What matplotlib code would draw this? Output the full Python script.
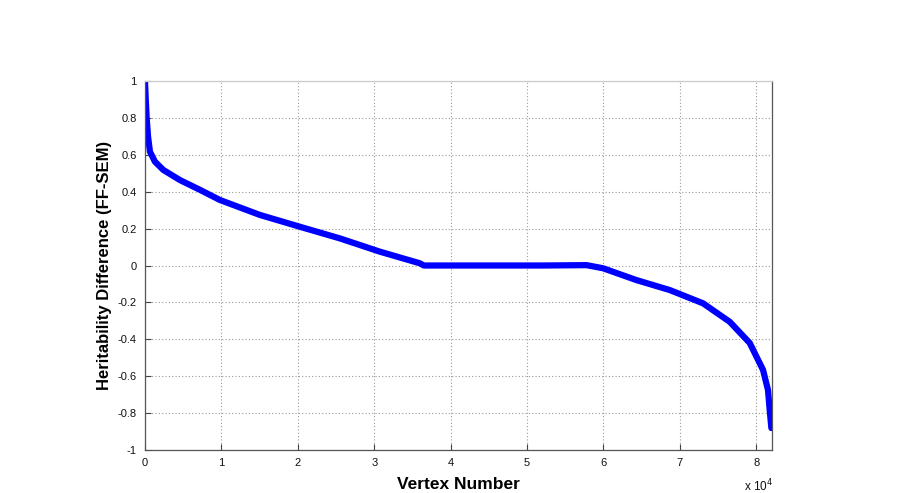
import matplotlib
matplotlib.use("Agg")
import matplotlib.pyplot as plt
from matplotlib import font_manager as fm

# Data (sorted heritability differences)
vertex = [0, 100, 220, 400, 650, 1300, 2400, 4580, 7200, 9810, 15040, 20270, 25500,
          30740, 35970, 36500, 45000, 52000, 57780, 59950, 64310, 68670,
          73030, 76520, 79140, 80880, 81530, 81750, 81970]
diff = [1.0, 0.90, 0.80, 0.70, 0.617, 0.563, 0.518, 0.463, 0.41, 0.355, 0.274, 0.21, 0.147,
        0.075, 0.012, 0.0, 0.0, 0.0, 0.002, -0.015, -0.079, -0.133,
        -0.205, -0.305, -0.42, -0.566, -0.675, -0.783, -0.88]
tail_x = [81900, 81930, 81960, 81970]
tail_y = [-0.80, -0.83, -0.86, -0.88]

xticks = [0, 10000, 20000, 30000, 40000, 50000, 60000, 70000, 80000]
xtick_labels = ["0", "1", "2", "3", "4", "5", "6", "7", "8"]
yticks = [-1, -0.8, -0.6, -0.4, -0.2, 0, 0.2, 0.4, 0.6, 0.8, 1]
ytick_labels = ["-1", "-0.8", "-0.6", "-0.4", "-0.2", "0", "0.2", "0.4", "0.6", "0.8", "1"]

names = {f.name for f in fm.fontManager.ttflist}
lab_font = "Liberation Sans Narrow" if "Liberation Sans Narrow" in names else "Liberation Sans"

fig = plt.figure(figsize=(9.01, 4.93), dpi=100)
ax = fig.add_axes([0.1609, 0.0872, 0.6959, 0.7485])

ax.plot(vertex, diff, color="#0000ff", lw=4.5, solid_capstyle="round", solid_joinstyle="round")
ax.plot(tail_x, tail_y, linestyle="none", marker="o", ms=3, mfc="none", mec="#0000ff", mew=0.8)

ax.set_xlim(0, 82050)
ax.set_ylim(-1, 1)
ax.set_xticks(xticks)
ax.set_xticklabels(xtick_labels)
ax.set_yticks(yticks)
ax.set_yticklabels(ytick_labels)

ax.grid(True, color="#9a9a9a", linestyle=(0, (1, 2)), linewidth=0.8)
ax.tick_params(direction="in", length=4, width=0.8, color="#444444",
               labelsize=8, labelcolor="#111111", top=False, right=False, pad=6)
for lab in ax.get_xticklabels() + ax.get_yticklabels():
    lab.set_family("Liberation Sans")
for side, sp in ax.spines.items():
    sp.set_color("#555555")
    sp.set_linewidth(0.9)
ax.spines["top"].set_color("#cccccc")

ax.set_xlabel("Vertex Number", fontsize=12.5, fontweight="bold", family=lab_font, labelpad=6)
ax.set_ylabel("Heritability Difference (FF-SEM)", fontsize=12, fontweight="bold", family=lab_font, labelpad=4)

fig.text(0.826, 0.003, r"x 10$^{4}$", fontsize=8.5, family="Liberation Sans", color="#111111")

fig.savefig("out.png", dpi=100, facecolor="white")
